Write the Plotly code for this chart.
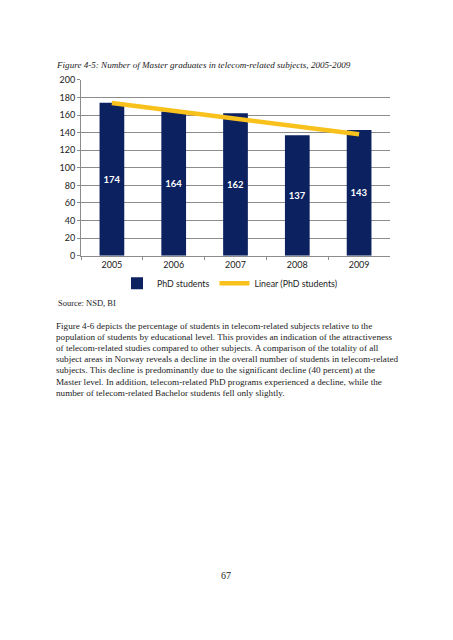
import numpy as np
import plotly.graph_objects as go

# data
years = ['2005', '2006', '2007', '2008', '2009']
phd_students = [174, 164, 162, 137, 143]
y_ticks = [0, 20, 40, 60, 80, 100, 120, 140, 160, 180, 200]

title_text = 'Figure 4-5: Number of Master graduates in telecom-related subjects, 2005-2009'
source_text = 'Source: NSD, BI'
paragraph = [
    'Figure 4-6 depicts the percentage of students in telecom-related subjects relative to the',
    'population of students by educational level. This provides an indication of the attractiveness',
    'of telecom-related studies compared to other subjects. A comparison of the totality of all',
    'subject areas in Norway reveals a decline in the overall number of students in telecom-related',
    'subjects. This decline is predominantly due to the significant decline (40 percent) at the',
    'Master level. In addition, telecom-related PhD programs experienced a decline, while the',
    'number of telecom-related Bachelor students fell only slightly.',
]
page_number = '67'

# linear trendline like Excel's "Linear (PhD students)"
xi = np.arange(1, len(phd_students) + 1)
slope, intercept = np.polyfit(xi, phd_students, 1)
trend = slope * xi + intercept

W, H = 453, 640
OFF = 8  # page body margin in the browser
BAR = '#0c2160'
GOLD = '#f9c11c'
GRID = '#8c8c8c'
CHART_FONT = 'Lato, Carlito, sans-serif'
SERIF = 'Liberation Serif, Times New Roman, serif'


def py(pix):
    return 1 - (pix - OFF) / H


def px(pix):
    return (pix - OFF) / W


fig = go.Figure()
fig.add_trace(go.Bar(
    x=years, y=phd_students, name='PhD students',
    marker=dict(color=BAR, line=dict(width=0)),
    width=0.4,
    text=[str(v) for v in phd_students],
    textposition='inside', insidetextanchor='middle',
    textfont=dict(color='white', size=9.5, family=CHART_FONT, weight='bold'),
))
fig.add_trace(go.Scatter(
    x=years, y=trend, name='Linear (PhD students)', mode='lines',
    line=dict(color=GOLD, width=4.5),
))

fig.update_layout(
    width=W, height=H,
    margin=dict(l=0, r=0, t=0, b=0),
    paper_bgcolor='white', plot_bgcolor='white',
    showlegend=True,
    legend=dict(orientation='h', x=px(230), xanchor='center', y=py(282), yanchor='middle',
                font=dict(family=CHART_FONT, size=8.8, color='#222'),
                itemwidth=30, tracegroupgap=0, bgcolor='rgba(0,0,0,0)'),
    xaxis=dict(domain=[px(81), px(390)], type='category',
               showline=True, linecolor=GRID, linewidth=1,
               ticks='outside', tickson='boundaries', ticklen=3, tickcolor=GRID,
               tickfont=dict(family=CHART_FONT, size=9, color='#222'),
               showgrid=False),
    yaxis=dict(domain=[py(254), py(75)], range=[0, 200], tickvals=y_ticks,
               showline=True, linecolor=GRID, linewidth=1,
               ticks='outside', ticklen=3, tickcolor=GRID,
               showgrid=True, gridcolor=GRID, gridwidth=1, zeroline=False,
               tickfont=dict(family=CHART_FONT, size=9, color='#222')),
    bargap=0.6,
)

anns = [
    dict(text=title_text, x=px(54), y=py(60), xanchor='left', yanchor='middle',
         font=dict(family=SERIF, size=9.1, color='#222', style='italic')),
    dict(text=source_text, x=px(56), y=py(302), xanchor='left', yanchor='middle',
         font=dict(family=SERIF, size=8.5, color='#222')),
    dict(text=page_number, x=px(226), y=py(579), xanchor='center', yanchor='middle',
         font=dict(family=SERIF, size=10, color='#222')),
]
for i, line in enumerate(paragraph):
    anns.append(dict(text=line, x=px(54), y=py(325 + i * 11.4), xanchor='left', yanchor='middle',
                     font=dict(family=SERIF, size=9.15, color='#222')))
for a in anns:
    a.update(xref='paper', yref='paper', showarrow=False)
fig.update_layout(annotations=anns)

fig.write_html('out.html')
